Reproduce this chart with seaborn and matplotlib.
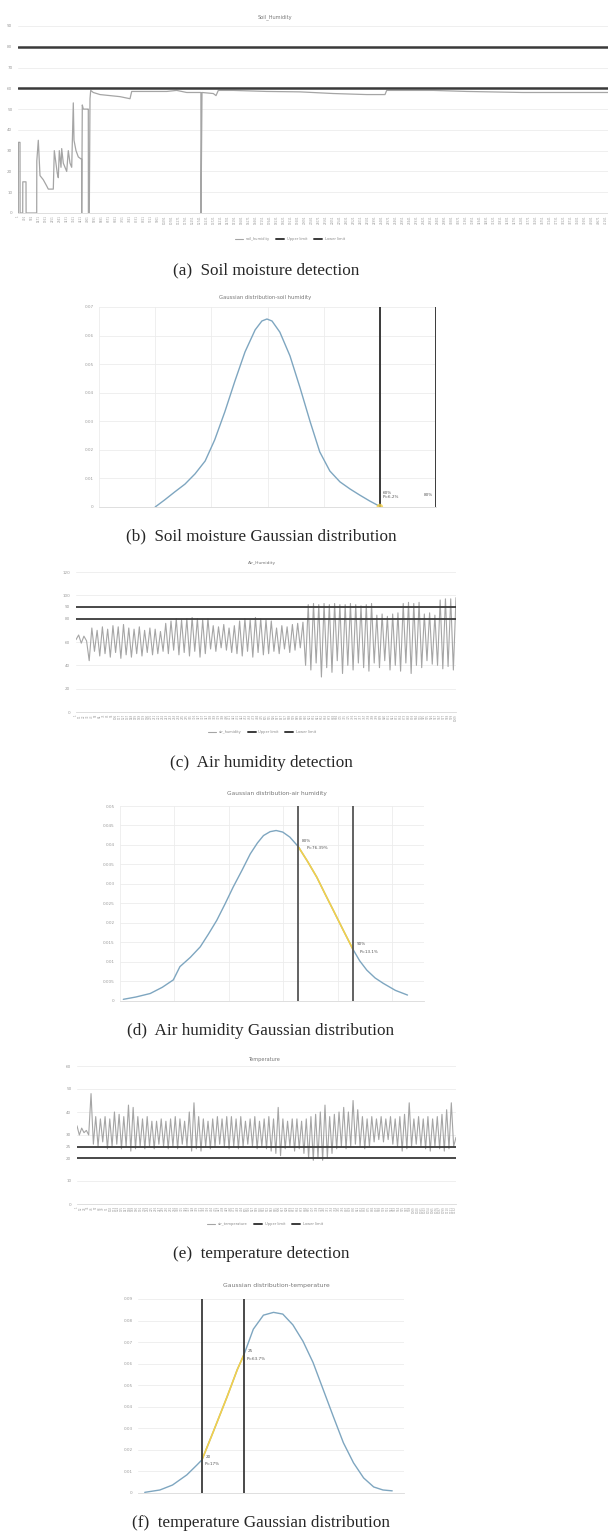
import numpy as np
import pandas as pd
import matplotlib
matplotlib.use("Agg")
import matplotlib.pyplot as plt
from matplotlib.lines import Line2D
import seaborn as sns

# ---- soil humidity (a) ----
soil_t = [0, 3, 4, 20, 21, 47, 48, 80, 81, 187, 188, 203, 220, 253, 287, 303, 353,
          363, 393, 403, 413, 430, 437, 453, 470, 487, 503, 520, 537, 553, 560, 580,
          603, 630, 636, 637, 643, 653, 697, 703, 704, 713, 720, 727, 753, 820, 920,
          1020, 1120, 1137, 1220, 1487, 1587, 1687, 1820, 1829, 1830, 1840, 1953,
          1980, 2003, 2153, 2487, 2820, 3153, 3487, 3670, 3687, 4153, 4487, 5047, 5900]
soil_val = [0, 0, 34, 34, 0, 0, 15, 15, 0, 0, 25, 35, 18, 16, 13, 11.5, 11.5,
            30, 19, 17, 30, 22, 31, 24, 22, 20, 30, 24, 22, 53, 35, 30,
            27, 26, 26, 0, 52, 50, 50, 50, 0, 0, 55, 59, 58, 57, 56.5,
            56, 55, 58.5, 58.5, 58.5, 59, 58, 58, 58, 0, 58, 57.5,
            56.5, 59, 59, 58.5, 58.3, 57.5, 57, 57, 59, 59, 58.5, 58, 58]
soil_limits = [80, 60]

# ---- soil gaussian (b) ----
soil_gx = [1.0, 1.17, 1.35, 1.53, 1.71, 1.89, 2.06, 2.24, 2.42, 2.60, 2.78, 2.90, 2.99,
           3.08, 3.22, 3.40, 3.58, 3.76, 3.93, 4.11, 4.29, 4.47, 4.64, 4.82, 5.02]
soil_gy = [0, 0.0025, 0.0053, 0.0080, 0.0116, 0.0161, 0.0235, 0.0333, 0.0441, 0.0543,
           0.0620, 0.0651, 0.0658, 0.0651, 0.0612, 0.0529, 0.0417, 0.0298, 0.0193,
           0.0126, 0.0088, 0.0063, 0.0042, 0.0021, 0]
soil_gmarks = [5.0, 6.0]

# ---- air humidity (c) ----
air_start = [62, 66, 59, 65, 61]
air_troughs = [44, 52, 48, 50, 47, 51,
               46, 49, 47, 50, 48, 51, 49, 50,
               52, 50, 53, 49, 51, 48, 52, 47, 50,
               54, 52, 55, 53, 51,
               50, 48, 52, 47, 51, 49, 50,
               52, 50, 54, 51, 53, 55,
               40, 36, 42, 30, 38, 34, 44, 33, 40, 36, 42, 38, 35,
               42, 38, 44, 36, 40,
               35, 42, 33, 40,
               38, 44, 41,
               40, 37, 39, 36]
air_peaks = [72, 70, 73, 71, 74, 73,
             75, 72, 71, 73, 70, 72, 71, 69,
             76, 78, 80, 79, 80, 81, 80, 79, 80,
             74, 73, 75, 72, 74,
             78, 80, 79, 81, 80, 79, 78,
             72, 74, 73, 75, 76, 77,
             92, 93, 92, 93, 92, 93, 92, 92, 93, 92, 91, 92, 93,
             83, 84, 82, 84, 85,
             93, 94, 93, 94,
             84, 85, 83,
             96, 97, 97, 98]
air_limits = [90, 80]

# ---- air gaussian (d) ----
air_gx = [48.2, 50.5, 53.1, 55.3, 57.3, 58.5, 60.4, 62.2, 63.7, 65.2, 66.7, 68.2, 69.8,
          71.3, 72.6, 73.7, 74.9, 76.0, 77.2, 78.5, 80.0, 81.7, 83.4, 84.9, 86.4, 88.2,
          90.0, 91.2, 92.5, 94.0, 95.5, 97.7, 99.9]
air_gy = [0.0003, 0.0009, 0.0018, 0.0034, 0.0053, 0.0087, 0.0111, 0.0138, 0.0171,
          0.0206, 0.0248, 0.0292, 0.0335, 0.0377, 0.0405, 0.0424, 0.0434, 0.0437,
          0.0433, 0.0420, 0.0396, 0.0358, 0.0317, 0.0274, 0.0232, 0.0181, 0.0131,
          0.0102, 0.0078, 0.0058, 0.0044, 0.0026, 0.0014]
air_gmarks = [80, 90]

# ---- temperature (e) ----
temp_start = [34, 30, 33, 31, 32, 30]
temp_peaks = [48,
              38, 37, 38, 37, 40, 39, 38,
              43, 42,
              38, 37, 38, 36, 36, 37, 36, 37, 38, 37, 36,
              40, 44,
              38, 37, 36, 37, 38, 37, 38, 38, 37, 38, 36, 37, 38, 36, 37, 38, 37,
              42,
              37, 36, 37, 37, 36, 37, 38, 39, 40,
              43,
              38, 39, 40,
              42, 40, 45, 41,
              38, 37, 38, 37, 38, 37, 38, 37, 38, 39,
              44,
              37, 38, 37, 38, 37, 38, 39,
              41, 44]
temp_troughs = [26, 25, 27, 24, 25, 26, 24, 25, 23, 24, 25,
                24, 25, 24, 26, 25, 24, 25, 24, 26, 25,
                23, 24, 23, 25, 24, 25, 26, 25, 24, 25,
                24, 25, 26, 25, 24, 25, 24, 23, 22, 21,
                24, 25, 23, 24, 22, 20, 19, 20, 19, 20,
                22, 24, 25, 24, 25, 26, 25, 24, 25, 27,
                28, 27, 28, 26, 25, 23, 24, 25, 26, 25,
                24, 23, 25, 24, 23, 24, 25]
temp_end = [29]
temp_limits = [25, 20]

# ---- temperature gaussian (f) ----
temp_gx = [13.2, 15.0, 16.5, 18.2, 19.4, 20.0, 21.3, 23.0, 24.2, 25.0, 26.1, 27.3, 28.5,
           29.6, 30.8, 32.0, 33.2, 34.4, 35.6, 36.8, 38.0, 39.2, 40.4, 41.5, 42.6]
temp_gy = [0.0003, 0.0014, 0.0037, 0.0084, 0.0130, 0.0154, 0.0280, 0.0448, 0.0573,
           0.0643, 0.0760, 0.0825, 0.0838, 0.0830, 0.0780, 0.0704, 0.0605, 0.0480,
           0.0355, 0.0233, 0.0140, 0.0070, 0.0028, 0.0014, 0.0010]
temp_gmarks = [20, 25]

W, H = 608, 1531
GREY = "#a5a5a5"
LIMIT = "#3a3a3a"
BLUE = "#7ea6c0"
YELLOW = "#f3d04a"
TICK = "#9a9a9a"
CAP = dict(fontsize=12.3, family="Liberation Serif")

sns.set_theme(style="white")
plt.rcParams["font.family"] = ["DejaVu Sans"]

fig = plt.figure(figsize=(W / 100, H / 100), dpi=100)


def px_axes(l, t, r, b):
    return fig.add_axes([l / W, 1 - b / H, (r - l) / W, (b - t) / H])


def ftext(x, y, s, **kw):
    kw.setdefault("ha", "center")
    kw.setdefault("va", "center")
    fig.text(x / W, 1 - y / H, s, **kw)


def style(ax, vgrid=False):
    for s in ax.spines.values():
        s.set_visible(False)
    ax.spines["bottom"].set_visible(True)
    ax.spines["bottom"].set_color("#d9d9d9")
    ax.spines["bottom"].set_linewidth(0.6)
    ax.grid(axis="y", color="#ececec", linewidth=0.6)
    if vgrid:
        ax.grid(axis="x", color="#ececec", linewidth=0.6)
    ax.set_axisbelow(True)
    ax.tick_params(axis="y", labelsize=3, colors=TICK, length=0, pad=4)
    ax.set_xlabel("")
    ax.set_ylabel("")


def legend3(y, x, first):
    handles = [Line2D([], [], color=GREY, lw=0.8),
               Line2D([], [], color=LIMIT, lw=1.4),
               Line2D([], [], color=LIMIT, lw=1.4)]
    fig.legend(handles, [first, "Upper limit", "Lower limit"], loc="center",
               bbox_to_anchor=(x / W, 1 - y / H), ncol=3, fontsize=2.6,
               frameon=False, handlelength=2.2, columnspacing=1.8,
               labelcolor="#8a8a8a")


def cat_ticks(ax, n, step):
    pos = np.arange(0, n, step)
    ax.set_xticks(pos)
    ax.set_xticklabels([str(int(round(p * 7)) + 1) for p in pos], rotation=90,
                       fontsize=2.0, color=TICK)
    ax.tick_params(axis="x", length=0, pad=1.5)


# (a) soil humidity
ax = px_axes(18, 26, 608, 213)
sns.lineplot(x=soil_t, y=soil_val, ax=ax, color=GREY, lw=0.9,
             estimator=None, sort=False)
for v in soil_limits:
    ax.axhline(v, color=LIMIT, lw=1.8)
ax.set_xlim(0, 5900)
ax.set_ylim(0, 90)
ax.set_yticks(range(0, 91, 10))
style(ax)
cat_ticks(ax, 5900, 70)
ftext(275, 17, "Soil_Humidity", fontsize=3.6, color="#777777")
legend3(239, 290, "soil_humidity")
ftext(266, 270, "(a)  Soil moisture detection", **CAP)

# (b) soil gaussian
ax = px_axes(99, 307, 436, 507)
sns.lineplot(x=soil_gx, y=soil_gy, ax=ax, color=BLUE, lw=1.0,
             estimator=None, sort=False)
for v in soil_gmarks:
    ax.axvline(v, color=LIMIT, lw=1.4)
ax.scatter([soil_gmarks[0]], [0], s=22, color=YELLOW, alpha=0.8, zorder=5,
           edgecolors="none")
ax.text(soil_gmarks[0] + 0.05, 0.0042, "60%\nP=6.2%", fontsize=3, color="#555555",
        va="center", linespacing=1.1)
ax.text(soil_gmarks[1] - 0.06, 0.0042, "80%", fontsize=3, color="#555555",
        va="center", ha="right")
ax.set_xlim(0, 6)
ax.set_ylim(0, 0.07)
ax.set_yticks(np.arange(0, 0.071, 0.01))
ax.set_yticklabels(["0", "0.01", "0.02", "0.03", "0.04", "0.05", "0.06", "0.07"])
ax.set_xticks(range(0, 7))
ax.tick_params(axis="x", labelbottom=False, length=0)
style(ax, vgrid=True)
ftext(265, 297, "Gaussian distribution-soil humidity", fontsize=3.8, color="#777777")
ftext(261, 536, "(b)  Soil moisture Gaussian distribution", **CAP)

# (c) air humidity
air_series = air_start + [v for pair in zip(air_troughs, air_peaks) for v in pair]
air_x = np.arange(len(air_series))
ax = px_axes(76, 572, 456, 712)
sns.lineplot(x=air_x, y=air_series, ax=ax, color=GREY, lw=0.8,
             estimator=None, sort=False)
for v in air_limits:
    ax.axhline(v, color=LIMIT, lw=1.3)
ax.set_xlim(0, len(air_series) - 1)
ax.set_ylim(0, 120)
ax.set_yticks([0, 20, 40, 60, 80, 90, 100, 120])
style(ax)
cat_ticks(ax, len(air_series), 1.5)
ftext(262, 563, "Air_Humidity", fontsize=3.2, color="#777777")
legend3(732, 262, "air_humidity")
ftext(261, 763, "(c)  Air humidity detection", **CAP)

# (d) air gaussian
ax = px_axes(120, 806, 424, 1000.5)
sns.lineplot(x=air_gx, y=air_gy, ax=ax, color=BLUE, lw=1.0,
             estimator=None, sort=False)
seg = [(x, y) for x, y in zip(air_gx, air_gy) if air_gmarks[0] <= x <= air_gmarks[1]]
sns.lineplot(x=[p[0] for p in seg], y=[p[1] for p in seg], ax=ax, color=YELLOW,
             lw=1.2, estimator=None, sort=False)
for v in air_gmarks:
    ax.axvline(v, color="#555555", lw=1.3)
ax.text(air_gmarks[0] + 0.7, 0.0409, "80%", fontsize=3, color="#555555", va="center")
ax.text(air_gmarks[0] + 1.5, 0.0391, "P=76.39%", fontsize=3, color="#555555", va="center")
ax.text(air_gmarks[1] + 0.6, 0.0145, "90%", fontsize=3, color="#555555", va="center")
ax.text(air_gmarks[1] + 1.2, 0.0124, "P=13.1%", fontsize=3, color="#555555", va="center")
ax.set_xlim(47.6, 102.9)
ax.set_ylim(0, 0.05)
ax.set_yticks(np.arange(0, 0.0501, 0.005))
ax.set_yticklabels(["0", "0.005", "0.01", "0.015", "0.02", "0.025", "0.03",
                    "0.035", "0.04", "0.045", "0.05"])
ax.set_xticks(np.arange(47.6, 103, 9.9))
ax.tick_params(axis="x", labelbottom=False, length=0)
style(ax, vgrid=True)
ftext(277, 794, "Gaussian distribution-air humidity", fontsize=4.2, color="#777777")
ftext(261, 1031, "(d)  Air humidity Gaussian distribution", **CAP)

# (e) temperature
temp_series = temp_start + [v for pair in zip(temp_peaks, temp_troughs) for v in pair] + temp_end
temp_x = np.arange(len(temp_series))
ax = px_axes(77, 1066, 456, 1204)
sns.lineplot(x=temp_x, y=temp_series, ax=ax, color=GREY, lw=0.8,
             estimator=None, sort=False)
for v in temp_limits:
    ax.axhline(v, color=LIMIT, lw=1.3)
ax.set_xlim(0, len(temp_series) - 1)
ax.set_ylim(0, 60)
ax.set_yticks([0, 10, 20, 25, 30, 40, 50, 60])
style(ax)
cat_ticks(ax, len(temp_series), 1.6)
ftext(264, 1059, "Temperature", fontsize=3.6, color="#777777")
legend3(1224, 265, "air_temperature")
ftext(261, 1254, "(e)  temperature detection", **CAP)

# (f) temperature gaussian
ax = px_axes(138, 1299, 404, 1493)
sns.lineplot(x=temp_gx, y=temp_gy, ax=ax, color=BLUE, lw=1.0,
             estimator=None, sort=False)
seg = [(x, y) for x, y in zip(temp_gx, temp_gy) if temp_gmarks[0] <= x <= temp_gmarks[1]]
sns.lineplot(x=[p[0] for p in seg], y=[p[1] for p in seg], ax=ax, color=YELLOW,
             lw=1.2, estimator=None, sort=False)
for v in temp_gmarks:
    ax.axvline(v, color=LIMIT, lw=1.3)
ax.text(temp_gmarks[0] + 0.4, 0.0165, "20", fontsize=3, color="#555555", va="center")
ax.text(temp_gmarks[0] + 0.3, 0.0135, "P=17%", fontsize=3, color="#555555", va="center")
ax.text(temp_gmarks[1] + 0.4, 0.0660, "25", fontsize=3, color="#555555", va="center")
ax.text(temp_gmarks[1] + 0.3, 0.0620, "P=63.7%", fontsize=3, color="#555555", va="center")
ax.set_xlim(12.4, 44)
ax.set_ylim(0, 0.09)
ax.set_yticks(np.arange(0, 0.091, 0.01))
ax.set_yticklabels(["0", "0.01", "0.02", "0.03", "0.04", "0.05", "0.06",
                    "0.07", "0.08", "0.09"])
ax.tick_params(axis="x", labelbottom=False, length=0)
style(ax)
ftext(276, 1286, "Gaussian distribution-temperature", fontsize=4.4, color="#777777")
ftext(261, 1523, "(f)  temperature Gaussian distribution", **CAP)

fig.savefig("out.png", dpi=100, facecolor="white")
